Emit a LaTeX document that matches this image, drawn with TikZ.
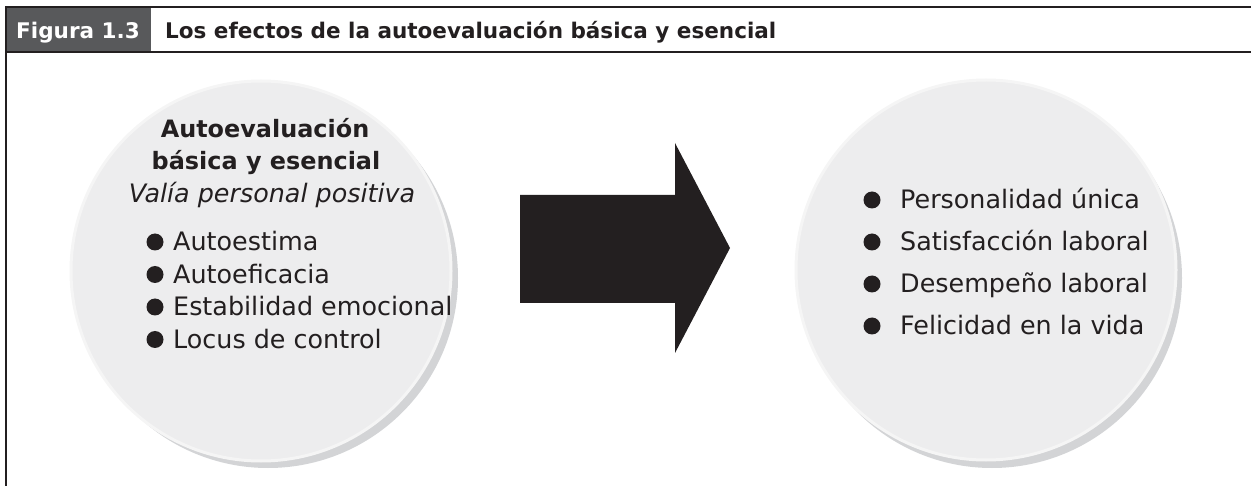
\documentclass[tikz,border=0pt]{standalone}
\usepackage{fontspec}
\setmainfont{DejaVu Sans}
\usetikzlibrary{calc}
\definecolor{inkblack}{HTML}{231F20}
\definecolor{bargray}{HTML}{58595B}
\definecolor{discgray}{HTML}{EDEDEE}
\definecolor{shadegray}{HTML}{D3D4D6}
\tikzset{
  txt/.style={inner sep=0pt, text=inkblack, font=\fontsize{25.5}{30}\selectfont},
  headtxt/.style={inner sep=0pt, font=\bfseries\fontsize{21.6}{26}\selectfont},
  dot/.style={circle, fill=inkblack, inner sep=0pt, minimum size=17bp},
  disc/.style={fill=discgray, draw=white!96!black, line width=3bp},
}
\begin{document}
\begin{tikzpicture}[x=1bp, y=-1bp]
\useasboundingbox (0,0) rectangle (1251,486);
\pgfmathsetmacro{\R}{190}
\coordinate (L) at (261,271);
\coordinate (Rc) at (986,270);
% title bar
\fill[bargray] (6,7) rectangle (151,52);
\draw[inkblack, line width=2.5bp] (1251,7) -- (6,7) -- (6,486);
\draw[inkblack, line width=2.5bp] (6,52) -- (1251,52);
\node[headtxt, text=white, anchor=base] (fig) at (78,39) {Figura 1.3};
\node[headtxt, text=inkblack, anchor=base west] (head) at (165,39) {Los efectos de la autoevaluación básica y esencial};
% discs with shadow
\fill[shadegray] ($(L)+(7,7)$) circle (\R);
\fill[disc] (L) circle (\R);
\fill[shadegray] ($(Rc)+(6,8)$) circle (\R);
\fill[disc] (Rc) circle (\R);
% left disc text
\node[txt, anchor=base, font=\bfseries\fontsize{24}{28}\selectfont] (core) at (265,138) {Autoevaluación};
\node[txt, anchor=base, font=\bfseries\fontsize{24}{28}\selectfont] (core2) at (266,170) {básica y esencial};
\node[txt, anchor=base, font=\itshape\fontsize{25.5}{30}\selectfont] (worth) at (272,203) {Valía personal positiva};
\foreach \t [count=\i] in {Autoestima, Autoeficacia, Estabilidad emocional, Locus de control} {
  \node[dot] (ld\i) at (155,{251+32.5*(\i-1)-9}) {};
  \node[txt, anchor=base west] (lt\i) at (173,{251+32.5*(\i-1)}) {\t};
}
% arrow
\fill[inkblack] (520,195) -- (675,195) -- (675,143) -- (730,248) -- (675,353) -- (675,303) -- (520,303) -- cycle;
% right disc text
\foreach \t [count=\i] in {Personalidad única, Satisfacción laboral, Desempeño laboral, Felicidad en la vida} {
  \node[dot] (rd\i) at (872,{209+42*(\i-1)-9}) {};
  \node[txt, anchor=base west] (rt\i) at (900,{209+42*(\i-1)}) {\t};
}
\end{tikzpicture}
\end{document}
